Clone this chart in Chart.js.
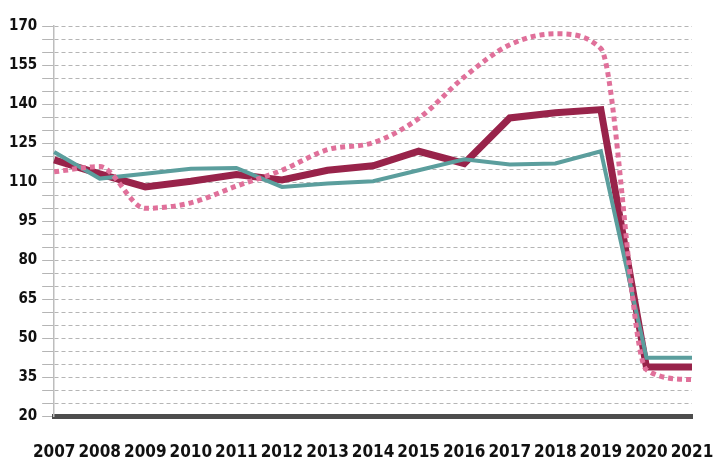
<!DOCTYPE html>
<html>
<head>
<meta charset="utf-8">
<script src="https://cdn.jsdelivr.net/npm/chart.js@4"></script>
<style>
    html, body { margin: 0; padding: 0; background: #ffffff; }
    #chart { width: 721px; height: 462px; }
</style>
</head>
<body>
<div id="chart"><canvas id="myChart"></canvas></div>
<script>
// donnees
const years = ['2007', '2008', '2009', '2010', '2011', '2012', '2013', '2014',
    '2015', '2016', '2017', '2018', '2019', '2020', '2021'];
const serieRouge = [118.6, 113.2, 108.2, 110.4, 113, 110.9, 114.6, 116.3, 121.9, 117.2, 134.7, 136.7, 137.9, 39, 39];
const serieTurquoise = [121.6, 111.4, 113.3, 115.2, 115.5, 108.2, 109.5, 110.4, 114.6, 118.8, 116.8, 117.2, 121.9, 42.6, 42.6];
const serieRose = [114, 116, 100, 102.1, 108.5, 114.6, 122.5, 125.2, 134.5, 150.4, 162.8, 167, 161.3, 38, 34.2];
const yTickLabels = [20, 35, 50, 65, 80, 95, 110, 125, 140, 155, 170];

const fontFamily = "'Liberation Sans Narrow', 'DejaVu Sans Condensed', sans-serif";

const ctx = document.getElementById('myChart');

new Chart(ctx, {
    type: 'line',
    data: {
        labels: years,
        datasets: [{
            data: serieRose,
            borderColor: '#e0709a',
            borderWidth: 5,
            borderDash: [5, 4],
            cubicInterpolationMode: 'monotone',
            pointRadius: 0
        }, {
            data: serieTurquoise,
            borderColor: '#5b9e9d',
            borderWidth: 4,
            tension: 0,
            pointRadius: 0
        }, {
            data: serieRouge,
            borderColor: '#98234a',
            borderWidth: 7,
            tension: 0,
            pointRadius: 0,
            borderJoinStyle: 'miter'
        }]
    },
    options: {
        responsive: true,
        maintainAspectRatio: false,
        animation: false,
        layout: {
            padding: { top: 26, right: 0, left: 4, bottom: -27 }
        },
        scales: {
            x: {
                offset: false,
                grid: { display: false, drawTicks: false },
                border: { display: true, color: '#4d4d4d', width: 5 },
                ticks: {
                    color: '#111111',
                    padding: 26,
                    maxRotation: 0,
                    autoSkip: false,
                    font: { family: fontFamily, size: 17, weight: 'bold' }
                },
                // marge droite = moitie du dernier label
                afterFit: (scale) => { scale.paddingRight = 29; }
            },
            y: {
                min: 20,
                max: 170,
                grid: {
                    color: '#b5b5b5',
                    tickLength: 12,
                    tickBorderDash: [],
                    tickColor: '#b5b5b5'
                },
                border: { display: true, color: '#bdbdbd', width: 1.5, dash: [4, 3] },
                ticks: {
                    stepSize: 5,
                    autoSkip: false,
                    color: '#111111',
                    padding: 5,
                    font: { family: fontFamily, size: 15, weight: 'bold' },
                    callback: (value) => yTickLabels.includes(value) ? value : ''
                }
            }
        },
        plugins: {
            legend: { display: false },
            tooltip: { enabled: false }
        }
    }
});
</script>
</body>
</html>
